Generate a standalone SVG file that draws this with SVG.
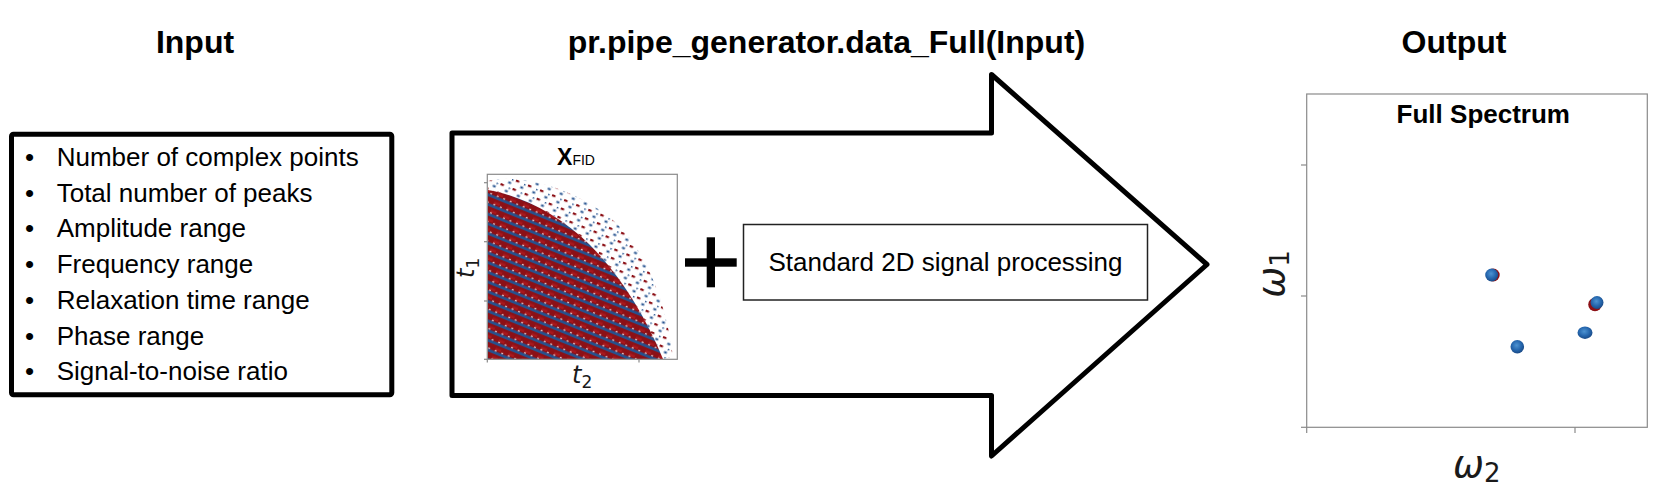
<svg xmlns="http://www.w3.org/2000/svg" width="1653" height="494" viewBox="0 0 1653 494">
<style>
.title{font-family:"Liberation Sans",Arial,sans-serif;font-weight:bold;font-size:32px;fill:#000;text-anchor:middle}
.item{font-family:"Liberation Sans",Arial,sans-serif;font-size:26px;fill:#000}
.math{font-family:"DejaVu Sans",sans-serif;fill:#1a1a1a}
.frame{fill:none;stroke:#8a8a8a;stroke-width:1.2}
.tick{stroke:#8a8a8a;stroke-width:1.2}
.peak{fill:url(#peakG)}
</style>
<defs>
<pattern id="fidP" patternUnits="userSpaceOnUse" width="14" height="9" patternTransform="rotate(22)">
<rect width="14" height="9" fill="#8c1016"/>
<rect x="2" y="1.5" width="6" height="2.5" fill="#a8181d"/>
<rect y="5.3" width="14" height="2.8" fill="#24528f"/>
<circle cx="3" cy="4.6" r="0.8" fill="#fff"/>
<circle cx="10" cy="4.6" r="0.8" fill="#fff"/>
</pattern>
<pattern id="fringeP" patternUnits="userSpaceOnUse" width="13" height="9" patternTransform="rotate(22)">
<rect x="0" y="0" width="3.5" height="2.2" fill="#8c1016"/>
<rect x="6.5" y="4.5" width="3" height="2" fill="#24528f"/>
<rect x="9" y="1" width="1.5" height="1.5" fill="#24528f"/>
</pattern>
<radialGradient id="peakG" cx="0.45" cy="0.4" r="0.6">
<stop offset="0" stop-color="#4d93d2"/>
<stop offset="0.6" stop-color="#2566ad"/>
<stop offset="1" stop-color="#1a4a86"/>
</radialGradient>
</defs>

<g id="connectors">
<polygon points="452,133 991.5,133 991.5,74.5 1207,264.5 991.5,456 991.5,395.5 452,395.5" fill="none" stroke="#000" stroke-width="5" stroke-linejoin="round"/>
</g>

<g id="input-title"><text class="title" x="195" y="53">Input</text></g>
<g id="process-title"><text class="title" x="826.5" y="53">pr.pipe_generator.data_Full(Input)</text></g>
<g id="output-title"><text class="title" x="1454" y="53">Output</text></g>

<g id="input-box">
<rect x="11.5" y="134.2" width="380.3" height="260.6" rx="2" fill="#fff" stroke="#000" stroke-width="5"/>
<g class="item">
<text x="25" y="165.7">•</text><text x="56.7" y="165.7">Number of complex points</text>
<text x="25" y="201.7">•</text><text x="56.7" y="201.7">Total number of peaks</text>
<text x="25" y="237.4">•</text><text x="56.7" y="237.4">Amplitude range</text>
<text x="25" y="273.3">•</text><text x="56.7" y="273.3">Frequency range</text>
<text x="25" y="309.3">•</text><text x="56.7" y="309.3">Relaxation time range</text>
<text x="25" y="345">•</text><text x="56.7" y="345">Phase range</text>
<text x="25" y="380.3">•</text><text x="56.7" y="380.3">Signal-to-noise ratio</text>
</g>
</g>

<g id="fid-plot">
<text x="576" y="165" font-family="'Liberation Sans',Arial,sans-serif" text-anchor="middle"><tspan font-weight="bold" font-size="23">X</tspan><tspan font-size="14">FID</tspan></text>
<path d="M488,181 C520,172 580,190 615,222 C645,250 666,300 673,357 L663,359 C645,315 620,275 590,245 C560,215 520,195 488,190 Z" fill="url(#fringeP)"/>
<path d="M488,190 C520,195 560,215 590,245 C620,275 645,315 663,359 L488,359 Z" fill="url(#fidP)"/>
<rect class="frame" x="487.3" y="174.3" width="190" height="185"/>
<line class="tick" x1="484" y1="182.7" x2="487.3" y2="182.7"/>
<line class="tick" x1="484" y1="241.7" x2="487.3" y2="241.7"/>
<line class="tick" x1="484" y1="301" x2="487.3" y2="301"/>
<line class="tick" x1="484" y1="359.3" x2="487.3" y2="359.3"/>
<line class="tick" x1="487.3" y1="359.3" x2="487.3" y2="362.5"/>
<line class="tick" x1="639" y1="359.3" x2="639" y2="362.5"/>
<text class="math" x="572" y="383" font-size="24"><tspan font-style="italic">t</tspan><tspan font-size="17" dy="5">2</tspan></text>
<text class="math" transform="translate(474,278) rotate(-90)" font-size="24"><tspan font-style="italic">t</tspan><tspan font-size="17" dy="5">1</tspan></text>
</g>

<g id="plus">
<rect x="685" y="258.3" width="51.7" height="8.4" fill="#000"/>
<rect x="706.7" y="237.3" width="8.3" height="50" fill="#000"/>
</g>

<g id="process-box">
<rect x="743.5" y="224.5" width="404" height="75.5" fill="#fff" stroke="#222" stroke-width="1.5"/>
<text class="item" x="945.5" y="271" text-anchor="middle" font-size="26.5">Standard 2D signal processing</text>
</g>

<g id="output-plot">
<rect class="frame" x="1306.7" y="94" width="340.6" height="333.3"/>
<line class="tick" x1="1301" y1="165" x2="1306.7" y2="165"/>
<line class="tick" x1="1301" y1="296" x2="1306.7" y2="296"/>
<line class="tick" x1="1301" y1="427.3" x2="1306.7" y2="427.3"/>
<line class="tick" x1="1306.7" y1="427.3" x2="1306.7" y2="433"/>
<line class="tick" x1="1575" y1="427.3" x2="1575" y2="433"/>
<text x="1483.3" y="122.7" font-family="'Liberation Sans',Arial,sans-serif" font-weight="bold" font-size="26" text-anchor="middle">Full Spectrum</text>
<circle cx="1493.2" cy="275" r="6.5" fill="#8c1016"/>
<circle class="peak" cx="1491.7" cy="275" r="6.5"/>
<circle class="peak" cx="1517.3" cy="346.7" r="6.8"/>
<ellipse class="peak" cx="1585" cy="332.7" rx="7.5" ry="6.2"/>
<circle cx="1595" cy="304.5" r="6.8" fill="#8c1016"/>
<circle class="peak" cx="1597" cy="302.5" r="6.5"/>
<text class="math" x="1476.7" y="476.7" font-size="37" text-anchor="middle"><tspan font-style="italic">ω</tspan><tspan font-size="26" dy="5">2</tspan></text>
<text class="math" transform="translate(1284,274) rotate(-90)" font-size="37" text-anchor="middle"><tspan font-style="italic">ω</tspan><tspan font-size="26" dy="5">1</tspan></text>
</g>
</svg>
